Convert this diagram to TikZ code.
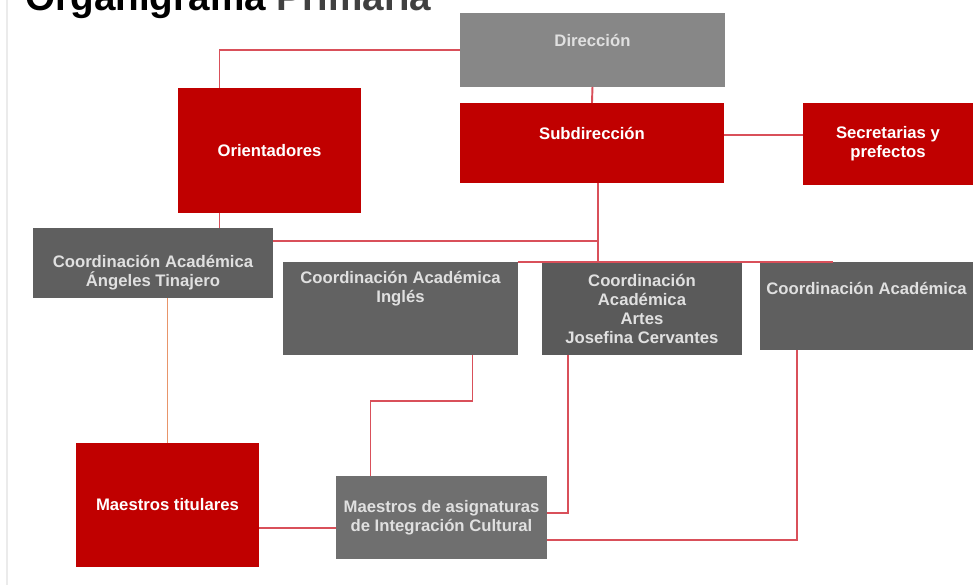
\documentclass[tikz,border=0pt]{standalone}
\usepackage{fontspec}
\setmainfont{Liberation Sans}

\definecolor{boxred}{HTML}{C00000}
\definecolor{boxgrey}{HTML}{878787}
\definecolor{boxdark}{HTML}{5F5F5F}
\definecolor{linkred}{HTML}{D9505A}
\definecolor{linkorange}{HTML}{E8956A}

\begin{document}
\begin{tikzpicture}[
    x=0.02cm, y=-0.02cm,
    every node/.style={font=\fontsize{9.5}{10.8}\selectfont\bfseries},
    box/.style={anchor=north west, inner sep=1pt, outer sep=0pt, align=center},
    redbox/.style={box, fill=boxred, text=white},
    greybox/.style={box, fill=boxdark, text=white!88!black},
    link/.style={draw=linkred, line width=1.1pt},
]
\useasboundingbox (0,0) rectangle (973,585);
\draw[black!8, line width=0.8pt] (7,0) -- (7,585);

% ── Title ────────────────────────────────────────────────────────────────────
\node[font=\fontsize{22}{26}\selectfont\bfseries, anchor=base west, inner sep=0pt] (title) at (25,10)
      {Organigrama {\color{black!75}Primaria}};

% ── Top level ────────────────────────────────────────────────────────────────
\node[box, fill=boxgrey, text=white!88!black, minimum width=5.3cm, minimum height=1.48cm] (dir) at (460,13) {Dirección\\[-3pt]\strut};
\node[redbox, minimum width=5.28cm, minimum height=1.6cm]  (sub) at (460,103) {Subdirección\\[-3pt]\strut};
\node[redbox, minimum width=3.4cm,  minimum height=1.64cm] (sec) at (803,103) {Secretarias y\\prefectos};
\node[redbox, minimum width=3.66cm, minimum height=2.5cm]  (ori) at (178,88)  {Orientadores};

% ── Coordinations ────────────────────────────────────────────────────────────
\node[greybox, minimum width=4.8cm,  minimum height=1.4cm]  (ang) at (33,228)  {\strut\\Coordinación Académica\\Ángeles Tinajero};
\node[greybox, fill=boxdark!98!white, minimum width=4.7cm, minimum height=1.86cm] (ing) at (283,262) {Coordinación Académica\\Inglés\\\strut\\\strut};
\node[greybox, fill=boxdark!95!black, minimum width=4.0cm, minimum height=1.86cm] (art) at (542,262) {Coordinación\\Académica\\Artes\\Josefina Cervantes};
\node[greybox, minimum width=4.26cm, minimum height=1.76cm] (rco) at (760,262) {Coordinación Académica\\[6pt]\strut};

% ── Teachers ─────────────────────────────────────────────────────────────────
\node[redbox, minimum width=3.66cm, minimum height=2.48cm] (mti) at (76,443)  {Maestros titulares};
\node[greybox, fill=boxdark!90!white, minimum width=4.22cm, minimum height=1.66cm] (mas) at (336,476)
      {Maestros de asignaturas\\de Integración Cultural};

% ── Connectors ───────────────────────────────────────────────────────────────
\coordinate (hub) at (598,241);
\coordinate (bus) at (598,261);
\draw[link] (dir.west) -| ([xshift=-1cm]ori.north);
\draw[link] (dir.south) -- (sub.north);
\draw[link] ([yshift=0.16cm]sub.east) -- ([yshift=0.16cm]sub.east -| sec.west);
\draw[link] (sub.south -| hub) -- (bus);
\draw[link] (hub -| ang.east) -- (hub);
\draw[link] (ing.north east) -- ([xshift=-0.67cm]rco.north);
\draw[link] ([xshift=-1cm]ori.south) -- ([xshift=-1cm]ori.south |- ang.north);
\draw[draw=linkorange, line width=1.1pt] (ang.south -| mti.north) -- (mti.north);
\draw[link] ([xshift=1.44cm]ing.south) -- ++(0,46) -| ([xshift=-1.42cm]mas.north);
\draw[link] ([xshift=-1.48cm]art.south) |- ([yshift=0.09cm]mas.east);
\draw[link] ([xshift=-1.39cm]rco.south) |- ([yshift=-0.45cm]mas.east);
\draw[link] ([yshift=-0.46cm]mti.east) -- ([yshift=-0.46cm]mti.east -| mas.west);

\end{tikzpicture}
\end{document}
